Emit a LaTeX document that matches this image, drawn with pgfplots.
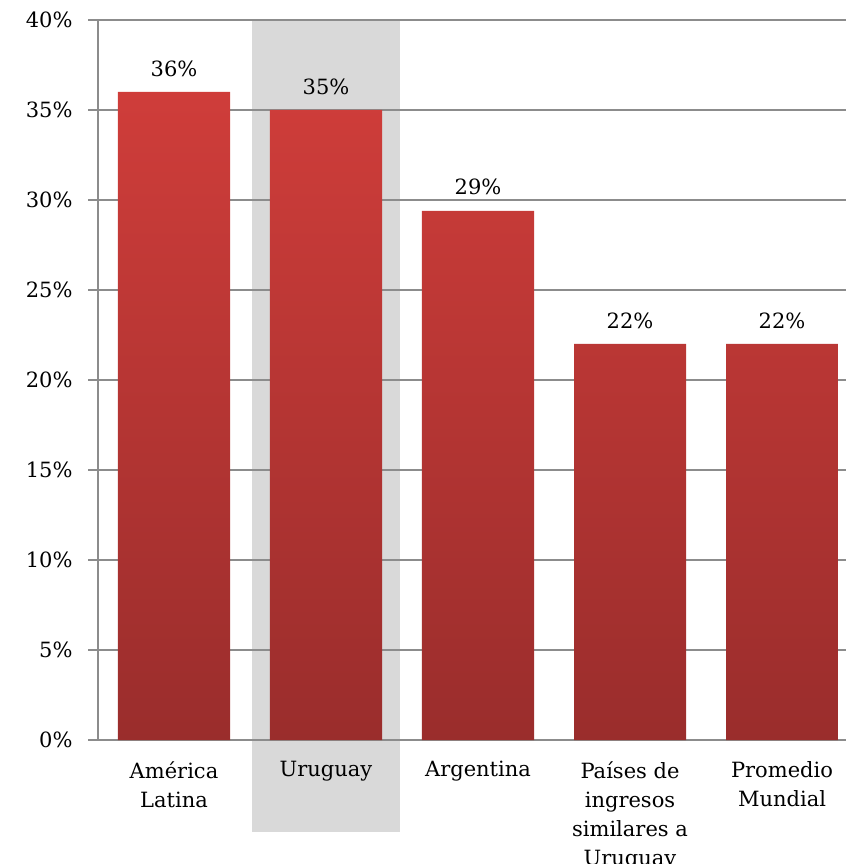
\documentclass[border=0pt]{standalone}
\usepackage{fontspec}
\setmainfont{DejaVu Serif}
\usepackage{pgfplots}
\pgfplotsset{compat=1.18}
\definecolor{gridgray}{RGB}{140,140,140}
\definecolor{bartop}{RGB}{207,61,58}
\definecolor{barbot}{RGB}{154,45,44}
\definecolor{hilite}{RGB}{217,217,217}

\begin{document}
\begin{tikzpicture}[x=1pt,y=1pt]
\useasboundingbox (0,0) rectangle (846,864);
\clip (0,0) rectangle (846,864);
% highlight behind Uruguay
\fill[hilite] (252,32) rectangle (400,844);
\begin{axis}[
    at={(98pt,124pt)}, anchor=south west,
    scale only axis, width=748pt, height=720pt,
    xmin=-0.5, xmax=4.421, ymin=0, ymax=40,
    axis x line*=bottom, axis y line*=left,
    axis line style={gridgray, line width=1.3pt},
    tick align=outside,
    ytick={0,5,...,40},
    yticklabel={\pgfmathprintnumber{\tick}\%},
    ymajorgrids,
    grid style={gridgray, line width=1.5pt},
    major tick length=10pt,
    tick style={gridgray, line width=1.3pt},
    xtick={0,1,2,3,4},
    xticklabels={América\\Latina, Uruguay, Argentina, Países de\\ingresos\\similares a\\Uruguay, Promedio\\Mundial},
    x tick style={draw=none},
    minor xtick={-0.5,0.5,1.5,2.5,3.5},
    minor tick length=7pt,
    minor x tick style={gridgray, line width=1.3pt},
    /pgf/number format/assume math mode=true,
    ticklabel style={font=\fontsize{21}{29}\selectfont},
    xticklabel style={align=center, anchor=north, yshift=-8pt},
    yticklabel style={xshift=-12pt},
    nodes near coords={\pgfmathprintnumber[fixed,precision=0]{\pgfplotspointmeta}\%},
    nodes near coords style={font=\fontsize{21}{24}\selectfont, yshift=12pt},
]
\addplot[ybar, bar width=0.737, draw=none, top color=bartop, bottom color=barbot]
    coordinates {(0,36) (1,35) (2,29.4) (3,22) (4,22)};
\end{axis}
\end{tikzpicture}
\end{document}
